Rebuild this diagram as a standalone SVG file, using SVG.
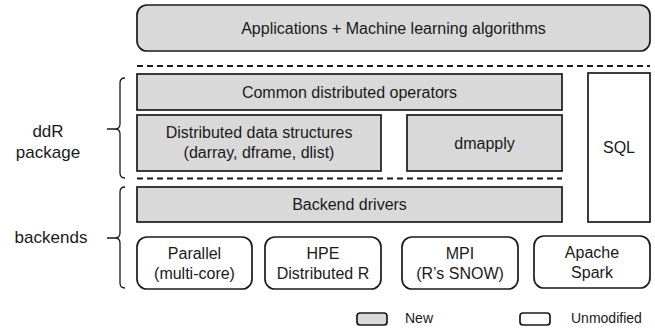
<svg xmlns="http://www.w3.org/2000/svg" width="655" height="331" viewBox="0 0 655 331">
<style>
.box{stroke:#1a1a1a;stroke-width:1.7}
.new{fill:#d9d9d9}
.unmod{fill:#ffffff}
text{font-family:"Liberation Sans",Arial,sans-serif;font-size:16px;fill:#1a1a1a;text-anchor:middle}
.lbl{font-size:17px}
.leg{font-size:14px;text-anchor:start}
.dash{stroke:#1a1a1a;stroke-width:1.8;stroke-dasharray:6,4;fill:none}
.brace{stroke:#1a1a1a;stroke-width:1.3;fill:none}
</style>
<rect width="655" height="331" fill="#ffffff"/>
<g id="apps"><rect class="box new" x="137" y="5" width="513" height="46" rx="10"/><text x="393.5" y="33.5">Applications + Machine learning algorithms</text></g>
<g id="separators">
<line class="dash" x1="137" y1="66" x2="650" y2="66"/>
<line class="dash" x1="137" y1="178.5" x2="562" y2="178.5"/>
</g>
<g id="common"><rect class="box new" x="137" y="74" width="425" height="36"/><text x="349.5" y="97.5">Common distributed operators</text></g>
<g id="dds"><rect class="box new" x="137" y="115" width="244" height="56"/><text x="259" y="138">Distributed data structures</text><text x="259" y="158">(darray, dframe, dlist)</text></g>
<g id="dmapply"><rect class="box new" x="407" y="115" width="155" height="56"/><text x="484.5" y="148.5">dmapply</text></g>
<g id="sql"><rect class="box unmod" x="588" y="73" width="62" height="149"/><text x="619" y="153">SQL</text></g>
<g id="drivers"><rect class="box new" x="137" y="187" width="425" height="35"/><text x="349.5" y="210">Backend drivers</text></g>
<g id="parallel"><rect class="box unmod" x="137" y="237" width="115" height="52" rx="10"/><text x="194.5" y="258.5">Parallel</text><text x="194.5" y="278.5">(multi-core)</text></g>
<g id="hpe"><rect class="box unmod" x="265" y="237" width="116" height="52" rx="10"/><text x="323" y="258.5">HPE</text><text x="323" y="278.5">Distributed R</text></g>
<g id="mpi"><rect class="box unmod" x="402" y="237" width="116" height="52" rx="10"/><text x="460" y="258.5">MPI</text><text x="460" y="278.5">(R’s SNOW)</text></g>
<g id="spark"><rect class="box unmod" x="534" y="236" width="116" height="52" rx="10"/><text x="592" y="257.5">Apache</text><text x="592" y="277.5">Spark</text></g>
<g id="ddr-label">
<path class="brace" d="M125,78 Q120,78 120,83 V124 Q120,129 115,129 H107 M115,129 Q120,129 120,134 V173 Q120,178 125,178"/>
<text class="lbl" x="48" y="137">ddR</text><text class="lbl" x="48" y="158">package</text>
</g>
<g id="backends-label">
<path class="brace" d="M125,187 Q120,187 120,192 V233 Q120,238 115,238 H107 M115,238 Q120,238 120,243 V283 Q120,288 125,288"/>
<text class="lbl" x="51" y="243">backends</text>
</g>
<g id="legend">
<rect class="box new" x="357" y="313" width="30" height="12" rx="3" stroke-width="1.2"/>
<text class="leg" x="405" y="323">New</text>
<rect class="box unmod" x="520" y="313" width="30" height="12" rx="3" stroke-width="1.2"/>
<text class="leg" x="571" y="323">Unmodified</text>
</g>
</svg>
